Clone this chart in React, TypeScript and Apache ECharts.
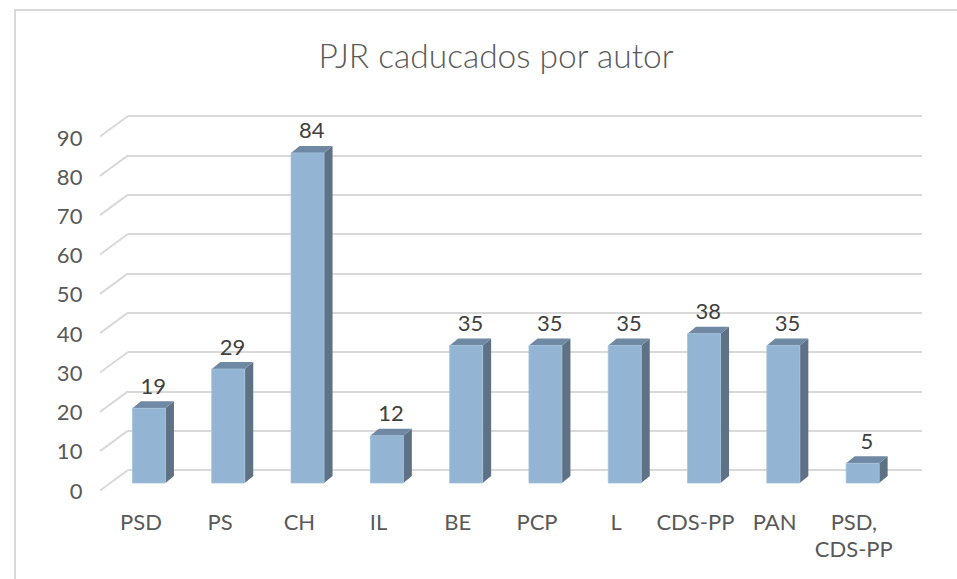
import React, { useEffect, useRef } from "react";
import * as echarts from "echarts";

const categories = ["PSD", "PS", "CH", "IL", "BE", "PCP", "L", "CDS-PP", "PAN", "PSD,\nCDS-PP"];
const values = [19, 29, 84, 12, 35, 35, 35, 38, 35, 5];
const yTicks = [0, 10, 20, 30, 40, 50, 60, 70, 80, 90];
const titleText = "PJR caducados por autor";

const FONT = "Lato";
const DEPTH_X = 8.5;
const DEPTH_Y = -7;
const BAR_W = 33;

export default function App() {
  const ref = useRef<HTMLDivElement>(null);
  useEffect(() => {
    if (!ref.current) return;
    const chart = echarts.init(ref.current, null, { renderer: "svg" });
    const option: any = {
      animation: false,
      backgroundColor: "#ffffff",
      graphic: [
        {
          type: "rect",
          shape: { x: 15, y: 10, width: 1200, height: 1000 },
          style: { fill: "none", stroke: "#d9d9d9", lineWidth: 2 },
          silent: true,
        },
        {
          type: "text",
          x: 496,
          y: 55,
          style: {
            text: titleText,
            fontFamily: FONT,
            fontSize: 33.5,
            fontWeight: 300,
            fill: "#595959",
            textAlign: "center",
            textVerticalAlign: "middle",
          },
        },
      ],
      grid: [
        { left: 128, top: 116, width: 794, height: 354 },
        { left: 109.3, top: 129.3, width: 793, height: 353.7 },
        { left: 101.4, top: 137, width: 792, height: 353 },
      ],
      xAxis: [
        { gridIndex: 0, type: "value", min: 0, max: 1, show: false },
        { gridIndex: 1, type: "category", data: categories, show: false },
        {
          gridIndex: 2,
          type: "category",
          data: categories,
          axisLine: { show: false },
          axisTick: { show: false },
          axisLabel: {
            fontFamily: FONT,
            fontSize: 22,
            color: "#595959",
            margin: 18,
            lineHeight: 27,
            interval: 0,
          },
        },
      ],
      yAxis: [
        {
          gridIndex: 0,
          type: "value",
          min: 0,
          max: 90,
          interval: 10,
          axisLine: { show: false },
          axisTick: { show: false },
          axisLabel: { show: false },
          splitLine: { show: true, lineStyle: { color: "#d9d9d9", width: 2 } },
        },
        { gridIndex: 1, type: "value", min: 0, max: 90, interval: 10, show: false },
        {
          gridIndex: 2,
          type: "value",
          min: 0,
          max: 90,
          interval: 10,
          axisLine: { show: false },
          axisTick: { show: false },
          splitLine: { show: false },
          axisLabel: { fontFamily: FONT, fontSize: 22, color: "#595959", margin: 19 },
        },
      ],
      series: [
        {
          type: "custom",
          xAxisIndex: 0,
          yAxisIndex: 0,
          silent: true,
          data: yTicks.map((v) => [0, v]),
          renderItem: (params: any, api: any) => {
            const p = api.coord([0, api.value(1)]);
            return {
              type: "line",
              shape: { x1: p[0], y1: p[1], x2: p[0] - 28, y2: p[1] + 20.5 },
              style: { stroke: "#d9d9d9", lineWidth: 2 },
            };
          },
        },
        {
          type: "custom",
          xAxisIndex: 1,
          yAxisIndex: 1,
          data: values.map((v, i) => [i, v]),
          renderItem: (params: any, api: any) => {
            const idx = api.value(0);
            const val = api.value(1);
            const p0 = api.coord([idx, 0]);
            const p1 = api.coord([idx, val]);
            const xl = p0[0] - BAR_W / 2;
            const xr = p0[0] + BAR_W / 2;
            const yb = p0[1];
            const yt = p1[1];
            return {
              type: "group",
              children: [
                {
                  type: "polygon",
                  shape: {
                    points: [
                      [xr, yt],
                      [xr + DEPTH_X, yt + DEPTH_Y],
                      [xr + DEPTH_X, yb + DEPTH_Y],
                      [xr, yb],
                    ],
                  },
                  style: { fill: "#5e7185" },
                },
                {
                  type: "polygon",
                  shape: {
                    points: [
                      [xl, yt],
                      [xl + DEPTH_X, yt + DEPTH_Y],
                      [xr + DEPTH_X, yt + DEPTH_Y],
                      [xr, yt],
                    ],
                  },
                  style: { fill: "#6f89a4" },
                },
                {
                  type: "rect",
                  shape: { x: xl, y: yt, width: BAR_W, height: yb - yt },
                  style: { fill: "#93b4d3", stroke: "#a3c0dc", lineWidth: 0.8 },
                },
                {
                  type: "text",
                  x: p0[0] + DEPTH_X / 2,
                  y: yt + DEPTH_Y - 5,
                  style: {
                    text: String(val),
                    fontFamily: FONT,
                    fontSize: 22,
                    fill: "#404040",
                    textAlign: "center",
                    textVerticalAlign: "bottom",
                  },
                },
              ],
            };
          },
        },
      ],
    };
    chart.setOption(option);
    return () => chart.dispose();
  }, []);
  return (
    <div
      ref={ref}
      style={{ position: "fixed", left: 0, top: 0, width: 957, height: 579, background: "#fff" }}
    />
  );
}
